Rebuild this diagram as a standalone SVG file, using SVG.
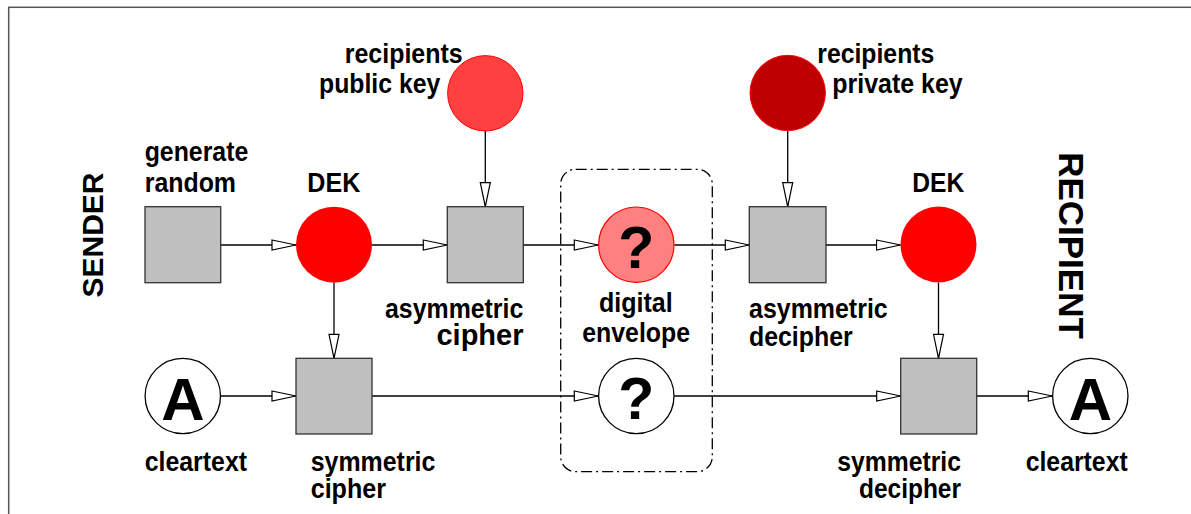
<svg xmlns="http://www.w3.org/2000/svg" width="1191" height="514" viewBox="0 0 1191 514">
<style>
.lbl{font-family:"Liberation Sans Narrow","Liberation Sans",Arial,sans-serif;font-weight:bold;font-size:28px;fill:#000}
.big{font-family:"Liberation Sans",Arial,sans-serif;font-weight:bold;fill:#000}
.sq{fill:#bfbfbf;stroke:#333;stroke-width:1.3}
.conn{stroke:#000;stroke-width:1.3;fill:none;marker-end:url(#arr)}
.wc{fill:#fff;stroke:#000;stroke-width:1.3}
</style>
<defs>
<marker id="arr" markerUnits="userSpaceOnUse" markerWidth="26" markerHeight="12" refX="24" refY="6" orient="auto" viewBox="-1 0 26 12">
<path d="M0,1 L24,6 L0,11 Z" fill="#fff" stroke="#000" stroke-width="1.2"/>
</marker>
</defs>
<rect x="8.7" y="7.3" width="1300" height="700" fill="#fff" stroke="#555" stroke-width="1.5"/>
<rect id="envelope-box" x="560.7" y="169.3" width="151.6" height="302.4" rx="15" ry="15" fill="none" stroke="#000" stroke-width="1.3" stroke-dasharray="11 4 2 4"/>
<g id="connectors">
<line class="conn" x1="221" y1="245" x2="296" y2="245"/>
<line class="conn" x1="372" y1="245" x2="447.3" y2="245"/>
<line class="conn" x1="523.3" y1="245" x2="598.3" y2="245"/>
<line class="conn" x1="674.3" y1="245" x2="749.3" y2="245"/>
<line class="conn" x1="826" y1="245" x2="900.5" y2="245"/>
<line class="conn" x1="485.3" y1="131" x2="485.3" y2="206.7"/>
<line class="conn" x1="787.7" y1="131" x2="787.7" y2="206.7"/>
<line class="conn" x1="334" y1="282.7" x2="334" y2="358.3"/>
<line class="conn" x1="938.5" y1="282.7" x2="938.5" y2="358.3"/>
<line class="conn" x1="220.7" y1="396" x2="296" y2="396"/>
<line class="conn" x1="372" y1="396" x2="598.3" y2="396"/>
<line class="conn" x1="674.3" y1="396" x2="900.7" y2="396"/>
<line class="conn" x1="976.7" y1="396" x2="1052.3" y2="396"/>
</g>
<g id="sender-label"><text class="big" font-size="30" text-anchor="middle" transform="translate(103,235) rotate(-90)">SENDER</text></g>
<g id="recipient-label"><text class="big" font-size="35" text-anchor="middle" transform="translate(1059,245.5) rotate(90)">RECIPIENT</text></g>
<g id="generate-random">
<rect class="sq" x="145" y="206.7" width="75.7" height="76"/>
<text class="lbl" x="144.7" y="161" textLength="103.6" lengthAdjust="spacingAndGlyphs">generate</text>
<text class="lbl" x="144.7" y="191.7" textLength="91.3" lengthAdjust="spacingAndGlyphs">random</text>
</g>
<g id="dek-sender">
<circle cx="334" cy="244.7" r="38" fill="#ff0000"/>
<text class="lbl" x="307.3" y="191.7" textLength="53" lengthAdjust="spacingAndGlyphs">DEK</text>
</g>
<g id="public-key">
<circle cx="485.3" cy="93.3" r="37.7" fill="#ff4040" stroke="#ff0000" stroke-width="1"/>
<text class="lbl" x="344.7" y="63.3" textLength="118" lengthAdjust="spacingAndGlyphs">recipients</text>
<text class="lbl" x="319" y="93.3" textLength="121.3" lengthAdjust="spacingAndGlyphs">public key</text>
</g>
<g id="asymmetric-cipher">
<rect class="sq" x="447.3" y="206.7" width="76" height="76"/>
<text class="lbl" x="385" y="318.3" textLength="138.3" lengthAdjust="spacingAndGlyphs">asymmetric</text>
<text class="big" font-size="29" x="523.5" y="345" text-anchor="end">cipher</text>
</g>
<g id="digital-envelope">
<circle cx="636.3" cy="244.7" r="37.7" fill="#ff8080" stroke="#ff0000" stroke-width="1.2"/>
<text class="big" font-size="59" x="636.3" y="268.3" text-anchor="middle">?</text>
<text class="lbl" x="599" y="311.7" textLength="73.7" lengthAdjust="spacingAndGlyphs">digital</text>
<text class="lbl" x="582.3" y="341.7" textLength="107.7" lengthAdjust="spacingAndGlyphs">envelope</text>
</g>
<g id="encrypted-text">
<circle class="wc" cx="636.3" cy="396" r="37.7"/>
<text class="big" font-size="59" x="636.3" y="419.3" text-anchor="middle">?</text>
</g>
<g id="private-key">
<circle cx="787.7" cy="93" r="37.7" fill="#bf0000" stroke="#ff0000" stroke-width="1"/>
<text class="lbl" x="817.3" y="63.3" textLength="117" lengthAdjust="spacingAndGlyphs">recipients</text>
<text class="lbl" x="832.3" y="93.3" textLength="130.4" lengthAdjust="spacingAndGlyphs">private key</text>
</g>
<g id="asymmetric-decipher">
<rect class="sq" x="749.3" y="206.7" width="76.7" height="76"/>
<text class="lbl" x="749" y="318.3" textLength="138.7" lengthAdjust="spacingAndGlyphs">asymmetric</text>
<text class="lbl" x="749" y="346" textLength="103.7" lengthAdjust="spacingAndGlyphs">decipher</text>
</g>
<g id="dek-recipient">
<circle cx="938.5" cy="244.5" r="38" fill="#ff0000"/>
<text class="lbl" x="912.3" y="191.7" textLength="52" lengthAdjust="spacingAndGlyphs">DEK</text>
</g>
<g id="cleartext-sender">
<circle class="wc" cx="182.8" cy="396" r="37.7"/>
<text class="big" font-size="60" x="183" y="420" text-anchor="middle">A</text>
<text class="lbl" x="144.7" y="471" textLength="102.3" lengthAdjust="spacingAndGlyphs">cleartext</text>
</g>
<g id="symmetric-cipher">
<rect class="sq" x="296" y="358.3" width="76" height="75.7"/>
<text class="lbl" x="310.7" y="471" textLength="124.7" lengthAdjust="spacingAndGlyphs">symmetric</text>
<text class="lbl" x="310.7" y="498.3" textLength="75.3" lengthAdjust="spacingAndGlyphs">cipher</text>
</g>
<g id="symmetric-decipher">
<rect class="sq" x="900.7" y="358.3" width="76" height="75.7"/>
<text class="lbl" x="837.3" y="470.5" textLength="123.7" lengthAdjust="spacingAndGlyphs">symmetric</text>
<text class="lbl" x="859" y="498.3" textLength="102" lengthAdjust="spacingAndGlyphs">decipher</text>
</g>
<g id="cleartext-recipient">
<circle class="wc" cx="1090.3" cy="396" r="37.7"/>
<text class="big" font-size="60" x="1090.5" y="420" text-anchor="middle">A</text>
<text class="lbl" x="1025.7" y="470.5" textLength="102" lengthAdjust="spacingAndGlyphs">cleartext</text>
</g>
</svg>
